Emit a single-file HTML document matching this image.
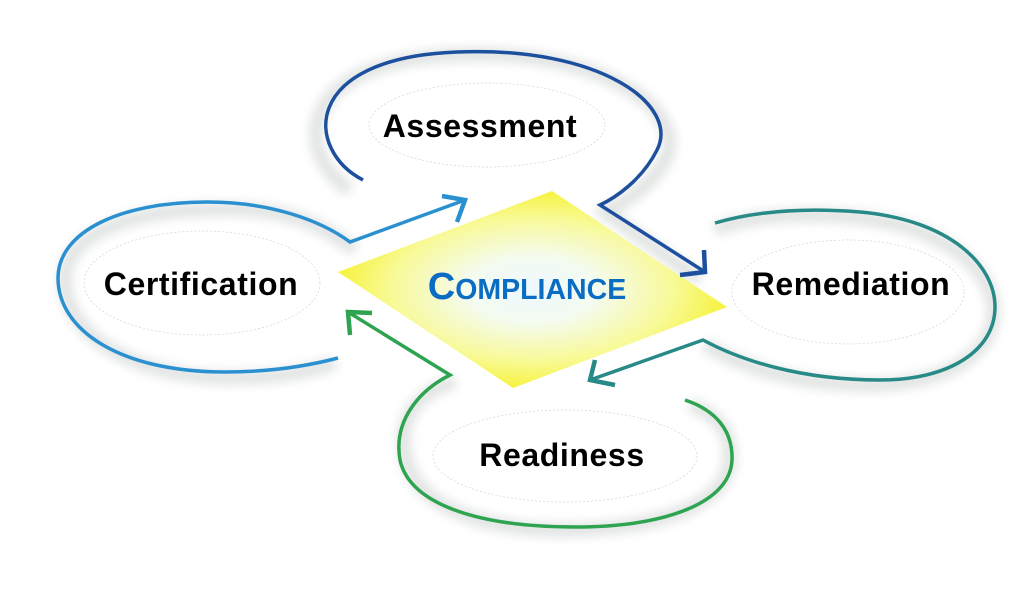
<!DOCTYPE html>
<html><head><meta charset="utf-8"><style>
html,body{margin:0;padding:0;background:#fff;width:1024px;height:591px;overflow:hidden}
svg{display:block}
text{font-family:"Liberation Sans",Arial,sans-serif;font-weight:bold}
</style></head><body>
<svg width="1024" height="591" viewBox="0 0 1024 591" xmlns="http://www.w3.org/2000/svg">
<defs>
<radialGradient id="dg" cx="0.5" cy="0.5" r="0.55">
<stop offset="0" stop-color="#eef8ff"/><stop offset="0.3" stop-color="#f4fbf0"/><stop offset="0.65" stop-color="#f8fa9a"/><stop offset="1" stop-color="#f6f020"/>
</radialGradient>
<filter id="bl" x="-20%" y="-20%" width="140%" height="140%"><feGaussianBlur stdDeviation="5"/></filter>
</defs>
<g fill="none" stroke="#e2e4e4" stroke-width="14" filter="url(#bl)">
<path d="M350,190 C290,150 300,60 457,55 C600,48 690,110 665,160 C645,195 615,205 605,212 L700,280"/>
<path d="M355,250 C300,205 240,208 200,210 C120,212 60,240 65,285 C70,340 140,378 230,378 C280,378 320,370 335,362"/>
<path d="M715,230 C760,210 850,212 900,225 C970,245 1005,290 990,330 C975,370 920,385 870,385 C790,385 740,365 705,345"/>
<path d="M455,382 C405,395 395,435 410,470 C430,515 500,530 560,530 C660,530 730,505 730,455 C730,430 715,413 690,405"/>
</g>
<polygon points="338,272 552,191 727,307 513,388" fill="url(#dg)"/>
<g fill="#fff" stroke="#d4d4d4" stroke-width="0.7" stroke-dasharray="2,2">
<ellipse cx="487" cy="125" rx="118" ry="42"/>
<ellipse cx="202" cy="283" rx="118" ry="52"/>
<ellipse cx="848" cy="292" rx="116" ry="52"/>
<ellipse cx="565" cy="456" rx="132" ry="46"/>
</g>
<g fill="none" stroke-width="3.5" stroke-linejoin="miter">
<path stroke="#1c4f9e" d="M363,180 C305,150 300,58 457,52 C600,46 680,105 657,150 C642,180 615,198 600,205 L705,272"/>
<path stroke="#1c4f9e" stroke-width="4.5" d="M704,250 L705,272 L680,275"/>
<path stroke="#2a90d0" d="M338,358 C300,368 260,372 225,372 C120,372 58,330 58,278 C58,232 120,202 207,202 C270,202 320,220 350,242 L465,200"/>
<path stroke="#2a90d0" stroke-width="4.5" d="M442,196 L465,200 L457,222"/>
<path stroke="#278a86" d="M715,223 C760,210 810,208 860,212 C950,220 995,265 995,307 C995,350 950,380 880,380 C800,380 740,360 703,340 L590,380"/>
<path stroke="#278a86" stroke-width="4.5" d="M595,360 L590,380 L615,385"/>
<path stroke="#2ea350" d="M685,400 C715,410 733,430 732,460 C730,505 660,527 575,527 C480,527 410,505 400,460 C393,420 420,390 450,375 L348,312"/>
<path stroke="#2ea350" stroke-width="4.5" d="M350,335 L348,312 L372,313"/>
</g>
<text x="480" y="137" font-size="32" letter-spacing="0.6" text-anchor="middle" fill="#000">Assessment</text>
<text x="201" y="295" font-size="32" letter-spacing="0.6" text-anchor="middle" fill="#000">Certification</text>
<text x="851" y="295" font-size="32" letter-spacing="0.6" text-anchor="middle" fill="#000">Remediation</text>
<text x="562" y="466" font-size="32" letter-spacing="0.6" text-anchor="middle" fill="#000">Readiness</text>
<text x="527" y="299" text-anchor="middle" fill="#0a6cc2"><tspan font-size="38">C</tspan><tspan font-size="28.5">OMPLIANCE</tspan></text>
</svg>
</body></html>
